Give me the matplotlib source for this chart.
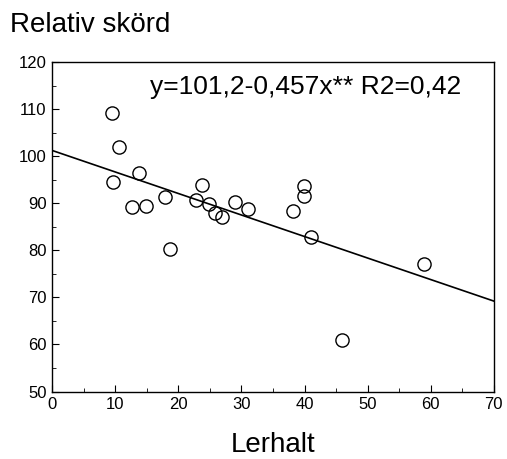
import matplotlib.pyplot as plt
import numpy as np
from matplotlib.ticker import MultipleLocator

plt.rcParams['font.family'] = ['Liberation Sans', 'DejaVu Sans']

# Lerhalt (%) och relativ skörd
lerhalt = [9.5, 10.6, 9.7, 13.7, 12.7, 14.9, 17.8, 18.7, 22.8, 23.8, 24.9,
           25.8, 26.9, 28.9, 31.0, 38.1, 39.9, 39.9, 41.0, 46.0, 58.9]
skord = [109.2, 101.9, 94.6, 96.4, 89.1, 89.4, 91.4, 80.2, 90.7, 93.9, 89.9,
         87.9, 87.0, 90.2, 88.7, 88.4, 93.7, 91.5, 82.9, 61.0, 77.1]

# regressionslinje
intercept = 101.2
slope = -0.457
x_line = [0, 70]

fig = plt.figure(figsize=(5.07, 4.59), dpi=100)
ax = fig.add_axes([0.103, 0.147, 0.871, 0.718])

ax.plot(lerhalt, skord, 'o', ms=9.5, mfc='none', mec='black', mew=1.0)
ax.plot(x_line, [intercept + slope * x for x in x_line], color='black', lw=1.2)

ax.set_xlim(0, 70)
ax.set_ylim(50, 120)
ax.xaxis.set_major_locator(MultipleLocator(10))
ax.xaxis.set_minor_locator(MultipleLocator(5))
ax.yaxis.set_major_locator(MultipleLocator(10))
ax.yaxis.set_minor_locator(MultipleLocator(5))
ax.tick_params(which='both', direction='in', top=False, right=False,
               labelsize=12, pad=4)
ax.tick_params(which='major', length=5)
ax.tick_params(which='minor', length=3)
for s in ax.spines.values():
    s.set_linewidth(1.0)

ax.text(0.927, 0.96, 'y=101,2-0,457x** R2=0,42', transform=ax.transAxes,
        ha='right', va='top', fontsize=19)

fig.text(0.02, 0.946, 'Relativ skörd', fontsize=20, ha='left', va='center')
ax.set_xlabel('Lerhalt', fontsize=20, labelpad=14)

fig.savefig('out.png', dpi=100)
